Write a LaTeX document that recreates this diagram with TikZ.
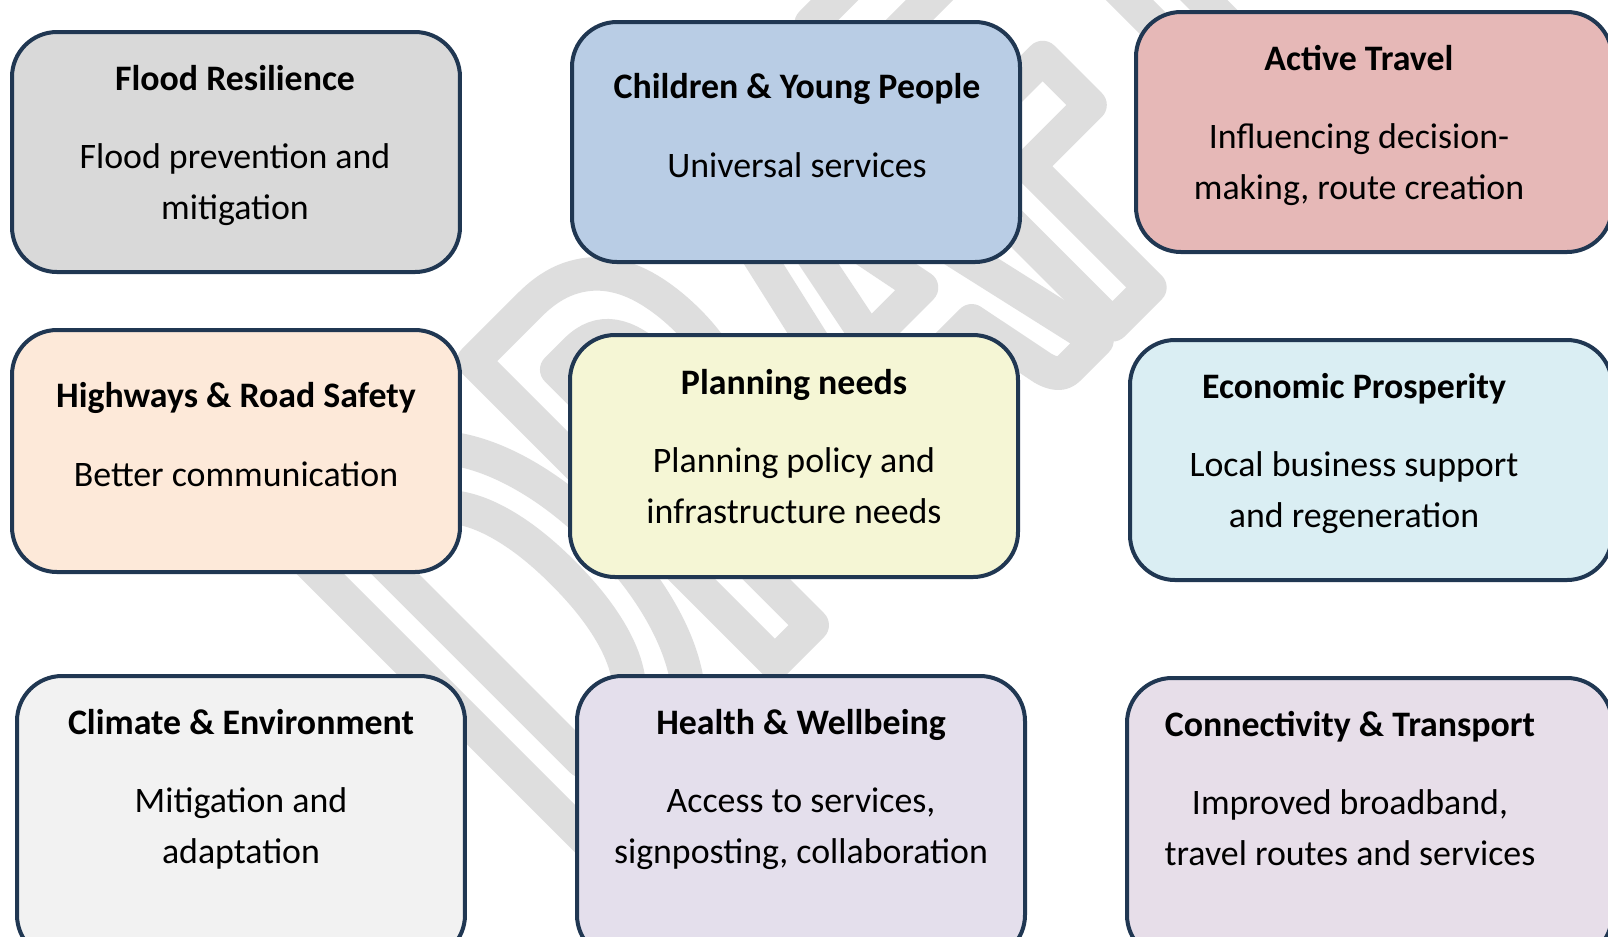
\documentclass[tikz,border=0pt]{standalone}
\usepackage{fontspec}
\setmainfont{Carlito}
\newfontfamily\draftfont[FakeStretch=0.624]{Carlito}
\usetikzlibrary{positioning}
\definecolor{boxline}{RGB}{32,55,82}
\definecolor{floodgrey}{RGB}{217,217,217}
\definecolor{childblue}{RGB}{185,205,229}
\definecolor{activepink}{RGB}{230,184,183}
\definecolor{roadpeach}{RGB}{253,233,217}
\definecolor{planyellow}{RGB}{245,246,213}
\definecolor{econcyan}{RGB}{218,238,243}
\definecolor{climgrey}{RGB}{242,242,242}
\definecolor{healthlilac}{RGB}{228,223,236}
\definecolor{connlilac}{RGB}{231,222,233}
\tikzset{every picture/.style={line width=0.5pt}}
\tikzstyle{topic}=[rectangle,rounded corners=4.5mm,draw=boxline,line width=0.4mm,minimum width=44.8mm,minimum height=24mm,inner sep=0pt]
\tikzstyle{topictext}=[align=center,anchor=base,inner sep=0pt,font={\fontsize{10.2}{14.5}\selectfont}]
\makeatletter
\newcommand{\hollow}[1]{\pgfsys@invoke{1 Tr 9.5 w 1 j 1 J 0.871 0.871 0.871 RG}#1}
\makeatother

\begin{document}
\begin{tikzpicture}
  [x=0.1mm,y=-0.1mm]
  \useasboundingbox (0,0) rectangle (1608,936);
  \fill[white] (0,0) rectangle (1608,936);
  \clip (0,0) rectangle (1608,936);
  % watermark
  \node[rotate=45,inner sep=0pt] (draft) at (824,312) {\draftfont\bfseries\fontsize{187}{187}\selectfont\hollow{DRAFT}};
  % boxes
  \node[topic,fill=floodgrey] (flood) at (236,152) {};
  \node[topic,fill=childblue] (child) at (796,142) {};
  \node[topic,fill=activepink,minimum width=47.6mm] (active) at (1374,132) {};
  \node[topic,fill=roadpeach,minimum height=24.2mm] (road) at (236,451) {};
  \node[topic,fill=planyellow,minimum height=24.2mm] (plan) at (794,456) {};
  \node[topic,fill=econcyan,minimum width=48.2mm] (econ) at (1371,460) {};
  \node[topic,fill=climgrey,minimum height=28.4mm] (climate) at (241,818) {};
  \node[topic,fill=healthlilac,minimum height=28.4mm] (health) at (801,818) {};
  \node[topic,fill=connlilac,minimum width=48.5mm,minimum height=28.2mm] (conn) at (1369.5,819) {};
  % texts (base = last line)
  \node[topictext] (floodtxt) at (235,219) {\textbf{Flood Resilience}\\[7.7pt]Flood prevention and\\mitigation};
  \node[topictext] (childtxt) at (797,177) {\textbf{Children \& Young People}\\[7.7pt]Universal services};
  \node[topictext] (activetxt) at (1359,199) {\textbf{Active Travel}\\[7.7pt]Influencing decision-\\making, route creation};
  \node[topictext] (roadtxt) at (236,486) {\textbf{Highways \& Road Safety}\\[7.7pt]Better communication};
  \node[topictext] (plantxt) at (794,523) {\textbf{Planning needs}\\[7.7pt]Planning policy and\\infrastructure needs};
  \node[topictext] (econtxt) at (1354,527) {\textbf{Economic Prosperity}\\[7.7pt]Local business support\\and regeneration};
  \node[topictext] (climatetxt) at (241,863) {\textbf{Climate \& Environment}\\[7.7pt]Mitigation and\\adaptation};
  \node[topictext] (healthtxt) at (801,863) {\textbf{Health \& Wellbeing}\\[7.7pt]Access to services,\\signposting, collaboration};
  \node[topictext] (conntxt) at (1350,865) {\textbf{Connectivity \& Transport}\\[7.7pt]Improved broadband,\\travel routes and services};
\end{tikzpicture}
\end{document}
